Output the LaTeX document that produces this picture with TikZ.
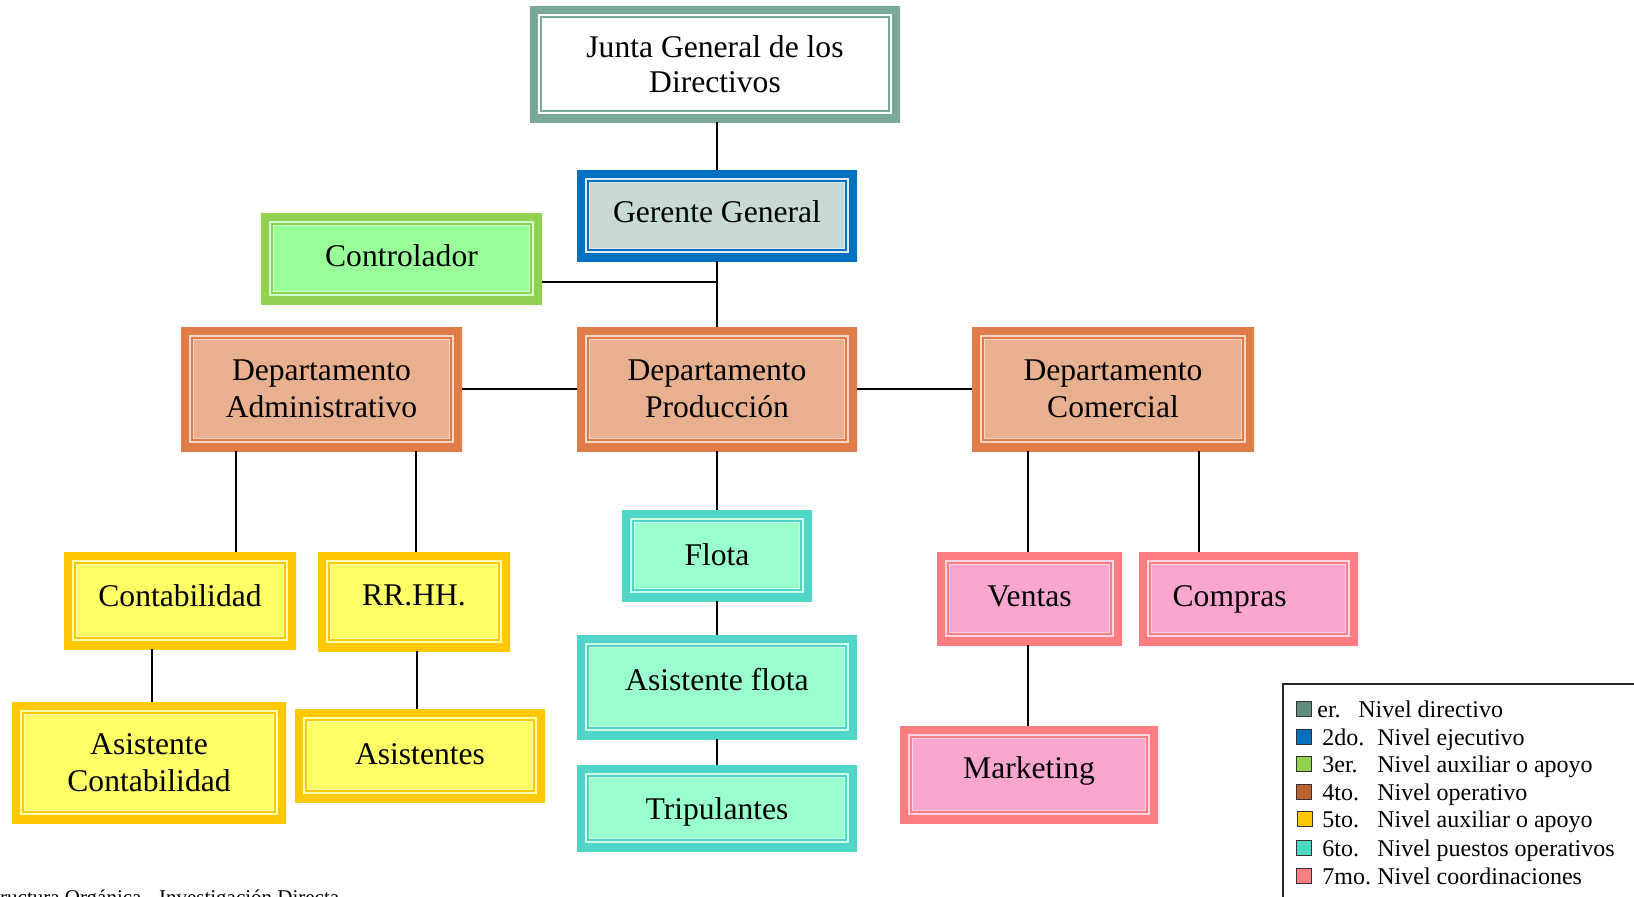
\documentclass[tikz,border=0pt]{standalone}
\usepackage{fontspec}
\setmainfont{Liberation Serif}
\definecolor{jB}{HTML}{7AA89A}
\definecolor{jF}{HTML}{FFFFFF}
\definecolor{gB}{HTML}{0070C0}
\definecolor{gF}{HTML}{C8DAD6}
\definecolor{cB}{HTML}{92D050}
\definecolor{cF}{HTML}{99FF99}
\definecolor{dB}{HTML}{DF7C47}
\definecolor{dF}{HTML}{E9B08F}
\definecolor{yB}{HTML}{FFC800}
\definecolor{yF}{HTML}{FFFF66}
\definecolor{tB}{HTML}{4FD6C8}
\definecolor{tF}{HTML}{99FFCC}
\definecolor{pB}{HTML}{FF7C80}
\definecolor{pF}{HTML}{FAA6CE}
\definecolor{l1}{HTML}{5F8C7E}
\definecolor{l2}{HTML}{0070C0}
\definecolor{l3}{HTML}{92D050}
\definecolor{l4}{HTML}{C0622C}
\definecolor{l5}{HTML}{FFC800}
\definecolor{l6}{HTML}{4DD9C8}
\definecolor{l7}{HTML}{FF8080}
\tikzset{
  obox/.style n args={3}{fill=#2, draw=none, inner sep=0pt, outer sep=0pt,
    align=center, font=\fontsize{15.8}{18.7}\selectfont,
    path picture={
      \draw[#1, line width=8pt] (path picture bounding box.south west) rectangle (path picture bounding box.north east);
      \draw[#3, line width=2.6pt] ([shift={(5.1pt,5.1pt)}]path picture bounding box.south west) rectangle ([shift={(-5.1pt,-5.1pt)}]path picture bounding box.north east);
      \draw[#1, line width=1pt] ([shift={(5.3pt,5.3pt)}]path picture bounding box.south west) rectangle ([shift={(-5.3pt,-5.3pt)}]path picture bounding box.north east);
    }},
  junta/.style={obox={jB}{jF}{white}},
  ger/.style={obox={gB}{gF}{gF!50!white}},
  ctrl/.style={obox={cB}{cF}{cF!50!white}},
  dept/.style={obox={dB}{dF}{dF!50!white}},
  ylw/.style={obox={yB}{yF}{yF!50!white}},
  teal/.style={obox={tB}{tF}{tF!50!white}},
  pink/.style={obox={pB}{pF}{pF!50!white}},
  tpos/.style={text depth=4pt, text height=4pt+#1},
  conn/.style={draw=black, line width=1pt},
  lsq/.style={draw=black!80, line width=0.8pt, minimum size=7.5pt, inner sep=0pt},
  ltxt/.style={anchor=base west, inner sep=0pt, font=\fontsize{12}{14}\selectfont},
}
\begin{document}
\begin{tikzpicture}[x=0.5pt, y=-0.5pt]
\useasboundingbox (0,0) rectangle (1634,896);
% nodes
\node[junta, minimum width=185pt, minimum height=58pt, font=\fontsize{15.8}{17.7}\selectfont] (junta) at (715,64) {Junta General de los\\Directivos};
\node[ger, tpos=7.2pt, minimum width=140pt, minimum height=45.5pt] (ger) at (717,215.5) {Gerente General};
\node[ctrl, tpos=7.6pt, minimum width=140.5pt, minimum height=45.5pt] (ctrl) at (401.5,258.5) {Controlador};
\node[dept, minimum width=140.5pt, minimum height=62pt] (admin) at (321.5,389) {Departamento\\Administrativo};
\node[dept, minimum width=140pt, minimum height=62pt] (prod) at (717,389) {Departamento\\Producción};
\node[dept, minimum width=141pt, minimum height=62pt] (com) at (1113,389) {Departamento\\Comercial};
\node[teal, tpos=9.8pt, minimum width=95pt, minimum height=45.5pt] (flota) at (717,555.5) {Flota};
\node[teal, tpos=3.6pt, minimum width=140pt, minimum height=52pt] (asf) at (717,687) {Asistente flota};
\node[teal, tpos=11.4pt, minimum width=140pt, minimum height=43pt] (trip) at (717,808) {Tripulantes};
\node[ylw, tpos=5.6pt, minimum width=116pt, minimum height=48.5pt] (cont) at (180,600.5) {Contabilidad};
\node[ylw, tpos=4.2pt, minimum width=96pt, minimum height=49.5pt] (rrhh) at (414,601.5) {RR.HH.};
\node[ylw, minimum width=137pt, minimum height=60.5pt] (asc) at (149,762.5) {Asistente\\Contabilidad};
\node[ylw, tpos=8.8pt, minimum width=125pt, minimum height=46.5pt] (asis) at (420,755.5) {Asistentes};
\node[pink, tpos=8.4pt, minimum width=92.5pt, minimum height=46.5pt] (ventas) at (1029.5,598.5) {Ventas};
\node[pink, tpos=8.4pt, minimum width=109.5pt, minimum height=46.5pt] (compras) at (1248.5,598.5) {Compras\hspace*{18.8pt}};
\node[pink, tpos=4.2pt, minimum width=129pt, minimum height=48.5pt] (mkt) at (1029,774.5) {Marketing};
% helper coordinates
\coordinate (cy) at (0,282);
\coordinate (xa) at (236,0);
\coordinate (xr) at (416,0);
\coordinate (xc) at (152,0);
\coordinate (xs) at (417,0);
\coordinate (xv) at (1028,0);
\coordinate (xp) at (1199,0);
% connectors
\draw[conn] (junta.south -| ger.north) -- (ger.north);
\draw[conn] (ger.south) -- (prod.north);
\draw[conn] (ctrl.east |- cy) -- (cy -| prod.north);
\draw[conn] (admin.east) -- (prod.west);
\draw[conn] (prod.east) -- (com.west);
\draw[conn] (admin.south -| xa) -- (cont.north -| xa);
\draw[conn] (admin.south -| xr) -- (rrhh.north -| xr);
\draw[conn] (cont.south -| xc) -- (asc.north -| xc);
\draw[conn] (rrhh.south -| xs) -- (asis.north -| xs);
\draw[conn] (prod.south) -- (flota.north);
\draw[conn] (flota.south) -- (asf.north);
\draw[conn] (asf.south) -- (trip.north);
\draw[conn] (com.south -| xv) -- (ventas.north -| xv);
\draw[conn] (com.south -| xp) -- (compras.north -| xp);
\draw[conn] (ventas.south -| xv) -- (mkt.north -| xv);
% legend
\draw[draw=black!85, line width=1pt] (1283,910) -- (1283,684) -- (1650,684);
\node[lsq, fill=l1] (s1) at (1304,709) {};
\node[lsq, fill=l2] (s2) at (1304,737) {};
\node[lsq, fill=l3] (s3) at (1304,764) {};
\node[lsq, fill=l4] (s4) at (1304,792) {};
\node[lsq, fill=l5] (s5) at (1305,819) {};
\node[lsq, fill=l6] (s6) at (1304,848) {};
\node[lsq, fill=l7] (s7) at (1304,876) {};
\node[ltxt] (n1) at (1317,717) {er.};
\node[ltxt] (t1) at (1358,717) {Nivel directivo};
\node[ltxt] (n2) at (1322,745) {2do.};
\node[ltxt] (t2) at (1377,745) {Nivel ejecutivo};
\node[ltxt] (n3) at (1322,772) {3er.};
\node[ltxt] (t3) at (1377,772) {Nivel auxiliar o apoyo};
\node[ltxt] (n4) at (1322,800) {4to.};
\node[ltxt] (t4) at (1377,800) {Nivel operativo};
\node[ltxt] (n5) at (1322,827) {5to.};
\node[ltxt] (t5) at (1377,827) {Nivel auxiliar o apoyo};
\node[ltxt] (n6) at (1322,856) {6to.};
\node[ltxt] (t6) at (1377,856) {Nivel puestos operativos};
\node[ltxt] (n7) at (1322,884) {7mo.};
\node[ltxt] (t7) at (1377,884) {Nivel coordinaciones};
% source note (cut by the page edge, as in the reference)
\node[anchor=base west, inner sep=0pt, font=\fontsize{10.5}{12}\selectfont] (src) at (-27,904) {Estructura Orgánica - Investigación Directa};
\end{tikzpicture}
\end{document}
